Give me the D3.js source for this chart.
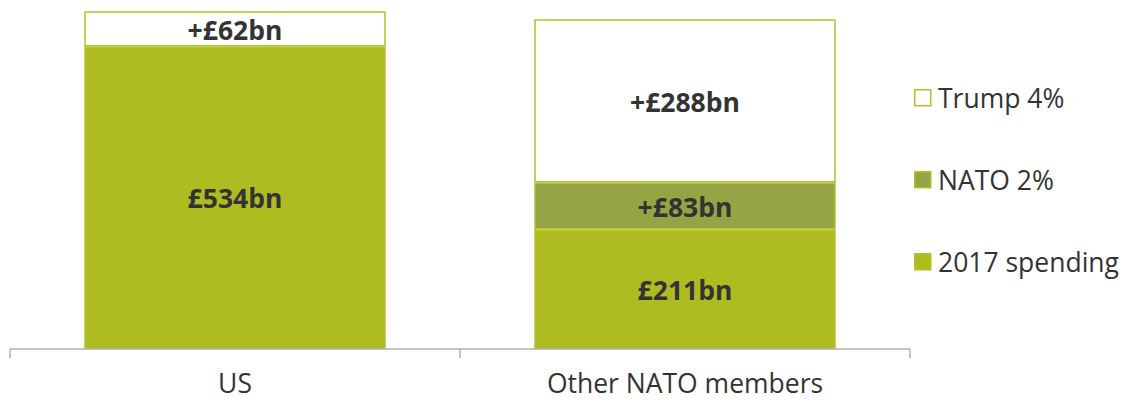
<!DOCTYPE html>
<html>
<head>
<meta charset="utf-8">
<script src="https://cdn.jsdelivr.net/npm/d3@7"></script>
<style>
body { margin: 0; background: #fff; }
text { font-family: "Open Sans", sans-serif; fill: #333; }
</style>
</head>
<body>
<div id="chart"></div>
<script>
// values in £bn
let categories = ['US', 'Other NATO members'];
let seriesNames = ['2017 spending', 'NATO 2%', 'Trump 4%'];
let spending2017 = [534, 211];
let nato2 = [0, 83];
let trump4 = [62, 288];
let segLabels = [
    ['£534bn', '', '+£62bn'],
    ['£211bn', '+£83bn', '+£288bn']
];

let colors = {'2017 spending': '#afbc21', 'NATO 2%': '#95a444', 'Trump 4%': '#ffffff'};
let edge = '#b4c12b';

let dim = {'width': 1123, 'height': 401};
let svg = d3.select('#chart').append('svg')
    .attr('width', dim.width)
    .attr('height', dim.height);

let x = d3.scaleBand().domain(categories).range([10, 910])
    .paddingInner(0.33).paddingOuter(0.165);
let y = d3.scaleLinear().domain([0, 600]).range([349, 9]);

let rows = categories.map((c, i) => ({
    cat: c,
    '2017 spending': spending2017[i],
    'NATO 2%': nato2[i],
    'Trump 4%': trump4[i],
    idx: i
}));
let stacked = d3.stack().keys(seriesNames)(rows);

let g = svg.append('g');

stacked.forEach(function(layer, li){
    g.selectAll('rect.s' + li)
        .data(layer.filter(d => d[1] > d[0]))
        .join('rect')
        .attr('class', 's' + li)
        .attr('x', d => x(d.data.cat) + 0.75)
        .attr('width', x.bandwidth() - 1.5)
        .attr('y', d => y(d[1]) + 0.75)
        .attr('height', d => y(d[0]) - y(d[1]) - 1.5)
        .attr('fill', colors[layer.key])
        .attr('stroke', edge)
        .attr('stroke-width', 1.5);

    g.selectAll('text.l' + li)
        .data(layer.filter(d => d[1] > d[0]))
        .join('text')
        .attr('class', 'l' + li)
        .attr('x', d => x(d.data.cat) + x.bandwidth() / 2)
        .attr('y', d => (y(d[0]) + y(d[1])) / 2 + 1.5)
        .attr('dy', '0.35em')
        .attr('text-anchor', 'middle')
        .style('font-size', '26.5px')
        .style('font-weight', 'bold')
        .text(d => segLabels[d.data.idx][li]);
});

// axis
let axis = d3.axisBottom(x).tickSize(0).tickPadding(25);
let ax = svg.append('g').attr('transform', 'translate(0,349)').call(axis);
ax.select('.domain').remove();
ax.selectAll('text').style('font-size', '26.5px').style('fill', '#333');
ax.append('line').attr('x1', 10).attr('x2', 910).attr('y1', 0).attr('y2', 0)
    .attr('stroke', '#b0b0b0').attr('stroke-width', 1.5);
let edges = [10, 10 + x.step(), 910];
ax.selectAll('line.tk').data(edges).join('line')
    .attr('class', 'tk')
    .attr('x1', d => d).attr('x2', d => d)
    .attr('y1', 0).attr('y2', 9)
    .attr('stroke', '#b0b0b0').attr('stroke-width', 1.5);

// legend
let legendOrder = ['Trump 4%', 'NATO 2%', '2017 spending'];
let leg = svg.append('g').attr('transform', 'translate(914,0)')
    .selectAll('g').data(legendOrder).join('g')
    .attr('transform', (d, i) => 'translate(0,' + (89 + i * 82) + ')');
leg.append('rect')
    .attr('x', 0.75).attr('y', 0.75)
    .attr('width', 16).attr('height', 16)
    .attr('fill', d => colors[d])
    .attr('stroke', edge).attr('stroke-width', 1.5);
leg.append('text')
    .attr('x', 24).attr('y', 10).attr('dy', '0.35em')
    .style('font-size', '26.5px')
    .text(d => d);
</script>
</body>
</html>
